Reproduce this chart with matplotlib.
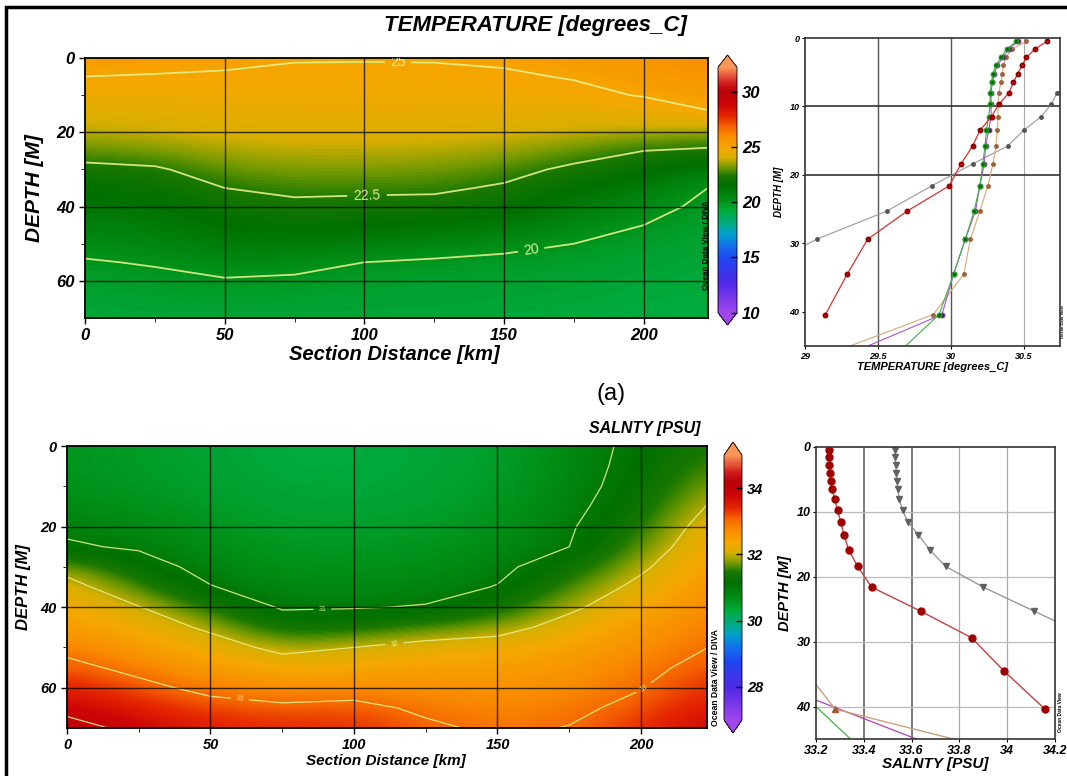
import numpy as np
import matplotlib
matplotlib.use('Agg')
import matplotlib.pyplot as plt
from matplotlib.colors import LinearSegmentedColormap
from matplotlib.patches import Rectangle

plt.rcParams['font.family'] = ['Liberation Sans', 'DejaVu Sans']

# section grid (distance along section, depth)
DIST_KM = [0, 25, 50, 75, 100, 125, 150, 175, 200, 225]
DEPTH_M = [0, 5, 10, 15, 20, 25, 30, 35, 40, 45, 50, 55, 60, 65, 70]

# temperature section, one list per distance column (values down the depth axis)
TEMP_COLS = [
    [25.3, 25.0, 24.6, 24.2, 23.7, 23.0, 22.2, 21.7, 21.3, 20.9, 20.4, 19.9, 19.6, 19.4, 19.2],
    [25.3, 24.95, 24.65, 24.3, 23.85, 23.2, 22.35, 21.8, 21.4, 21.0, 20.6, 20.1, 19.7, 19.5, 19.3],
    [25.2, 24.9, 24.7, 24.45, 24.1, 23.6, 23.05, 22.5, 22.0, 21.6, 21.1, 20.5, 19.9, 19.6, 19.4],
    [25.05, 24.85, 24.7, 24.5, 24.2, 23.75, 23.25, 22.75, 22.25, 21.75, 21.1, 20.4, 19.8, 19.5, 19.35],
    [25.04, 24.85, 24.7, 24.5, 24.2, 23.75, 23.25, 22.7, 22.2, 21.6, 20.9, 20.0, 19.6, 19.4, 19.3],
    [25.05, 24.85, 24.7, 24.5, 24.15, 23.7, 23.15, 22.7, 22.1, 21.4, 20.6, 19.85, 19.55, 19.4, 19.3],
    [25.12, 24.9, 24.7, 24.45, 24.05, 23.5, 22.9, 22.35, 21.85, 21.2, 20.35, 19.7, 19.5, 19.35, 19.25],
    [25.35, 25.05, 24.8, 24.4, 23.8, 23.05, 22.25, 21.6, 21.1, 20.5, 20.0, 19.6, 19.4, 19.3, 19.2],
    [25.65, 25.35, 25.05, 24.5, 23.6, 22.5, 21.8, 21.1, 20.5, 20.0, 19.6, 19.4, 19.3, 19.2, 19.1],
    [25.9, 25.65, 25.35, 24.95, 23.4, 22.3, 20.9, 19.9, 19.6, 19.45, 19.35, 19.3, 19.2, 19.15, 19.1],
]

# salinity section
SAL_COLS = [
    [30.6, 30.6, 30.65, 30.75, 30.92, 31.05, 31.8, 32.2, 32.35, 32.55, 32.85, 33.15, 33.5, 33.85, 34.2],
    [30.5, 30.5, 30.55, 30.65, 30.8, 30.95, 31.2, 31.6, 32.02, 32.3, 32.55, 32.85, 33.15, 33.5, 33.85],
    [30.4, 30.4, 30.45, 30.5, 30.6, 30.7, 30.85, 31.02, 31.45, 31.9, 32.25, 32.55, 32.85, 33.2, 33.5],
    [30.3, 30.3, 30.35, 30.4, 30.45, 30.55, 30.65, 30.8, 30.95, 31.3, 31.85, 32.3, 32.7, 33.1, 33.4],
    [30.3, 30.3, 30.33, 30.38, 30.45, 30.55, 30.65, 30.8, 30.97, 31.4, 32.0, 32.35, 32.75, 33.15, 33.4],
    [30.35, 30.35, 30.38, 30.42, 30.5, 30.58, 30.7, 30.83, 31.03, 31.6, 32.2, 32.5, 32.7, 32.9, 33.1],
    [30.45, 30.45, 30.5, 30.55, 30.65, 30.75, 30.88, 31.02, 31.3, 31.8, 32.25, 32.5, 32.65, 32.78, 32.9],
    [30.75, 30.78, 30.82, 30.88, 30.95, 31.0, 31.3, 31.6, 31.9, 32.2, 32.45, 32.6, 32.75, 32.88, 33.02],
    [31.15, 31.18, 31.22, 31.3, 31.45, 31.65, 31.9, 32.15, 32.35, 32.55, 32.7, 32.85, 32.98, 33.15, 33.35],
    [31.5, 31.65, 31.85, 32.08, 32.3, 32.45, 32.58, 32.7, 32.8, 32.9, 33.02, 33.2, 33.4, 33.6, 33.85],
]

TEMP_LEVELS = [20, 22.5, 25]
SAL_LEVELS = [31, 32, 33, 34]

# station profiles (depth levels shared by the stations)
LEVELS = [0.5, 1.6, 2.8, 4.0, 5.2, 6.5, 8.0, 9.7, 11.5, 13.5, 15.8, 18.4, 21.6, 25.3, 29.4, 34.5, 40.4]
DEEP = [47.0]

T_GREEN = [30.45, 30.385, 30.345, 30.31, 30.29, 30.28, 30.27, 30.27, 30.26, 30.245, 30.235, 30.22, 30.2, 30.16, 30.1, 30.02, 29.92, 29.59]
T_PURPLE = [30.46, 30.40, 30.36, 30.32, 30.30, 30.285, 30.277, 30.277, 30.277, 30.26, 30.24, 30.23, 30.2, 30.17, 30.1, 30.02, 29.94, 29.21]
T_TAN = [30.52, 30.42, 30.38, 30.36, 30.355, 30.345, 30.33, 30.325, 30.325, 30.32, 30.31, 30.29, 30.255, 30.2, 30.135, 30.09, 29.88, 29.06]
T_RED = [30.66, 30.58, 30.52, 30.49, 30.46, 30.43, 30.40, 30.33, 30.28, 30.20, 30.15, 30.07, 29.99, 29.70, 29.43, 29.29, 29.14]
T_GRAY_DEPTH = [6.5, 8.0, 9.7, 11.5, 13.5, 15.8, 18.4, 21.6, 25.3, 29.4, 34.5]
T_GRAY = [30.85, 30.73, 30.69, 30.62, 30.50, 30.39, 30.15, 29.87, 29.56, 29.08, 28.63]

S_RED = [33.254, 33.254, 33.255, 33.258, 33.262, 33.268, 33.278, 33.29, 33.303, 33.317, 33.336, 33.374, 33.433, 33.638, 33.851, 33.986, 34.158]
S_GRAY = [33.532, 33.532, 33.534, 33.536, 33.539, 33.542, 33.548, 33.562, 33.583, 33.628, 33.675, 33.742, 33.9, 34.113, 34.35]
S_TAN_DEPTH = [34.5, 40.4, 47.0]
S_TAN = [33.156, 33.28, 33.99]
S_PURPLE_DEPTH = [34.5, 47.0]
S_PURPLE = [32.885, 33.76]
S_GREEN_DEPTH = [34.5, 47.0]
S_GREEN = [33.041, 33.402]

# ODV-like palette
odv = LinearSegmentedColormap.from_list('odv', [
    (0.00, (160/255, 70/255, 235/255)),
    (0.12, (80/255, 40/255, 230/255)),
    (0.22, (30/255, 70/255, 240/255)),
    (0.27, (20/255, 110/255, 235/255)),
    (0.32, (0/255, 160/255, 205/255)),
    (0.36, (0/255, 170/255, 135/255)),
    (0.41, (0/255, 172/255, 62/255)),
    (0.45, (0/255, 148/255, 28/255)),
    (0.52, (0/255, 112/255, 0/255)),
    (0.56, (25/255, 120/255, 0/255)),
    (0.595, (120/255, 155/255, 0/255)),
    (0.63, (215/255, 175/255, 0/255)),
    (0.67, (245/255, 168/255, 0/255)),
    (0.72, (250/255, 140/255, 0/255)),
    (0.76, (245/255, 100/255, 0/255)),
    (0.80, (230/255, 40/255, 0/255)),
    (0.85, (205/255, 5/255, 5/255)),
    (0.90, (185/255, 0/255, 10/255)),
    (0.94, (210/255, 30/255, 30/255)),
    (1.00, (250/255, 150/255, 90/255)),
])

W, H = 1067, 776
fig = plt.figure(figsize=(W / 100, H / 100), dpi=100)


def box(x0, y0, x1, y1):
    # pixel box (top-left origin) -> figure fraction rect
    return [x0 / W, 1 - y1 / H, (x1 - x0) / W, (y1 - y0) / H]


def bi(texts):
    for t in texts:
        t.set_fontweight('bold')
        t.set_fontstyle('italic')


def section(ax, cax, cols, vmin, vmax, levels, cticks, label_pos, lab_size, lw, tsize):
    Z = np.array(cols).T
    dx = (DIST_KM[1] - DIST_KM[0]) / 2
    dz = (DEPTH_M[1] - DEPTH_M[0]) / 2
    im = ax.imshow(Z, cmap=odv, vmin=vmin, vmax=vmax, interpolation='bicubic', aspect='auto',
                   extent=[DIST_KM[0] - dx, DIST_KM[-1] + dx, DEPTH_M[-1] + dz, DEPTH_M[0] - dz])
    X, Y = np.meshgrid(DIST_KM, DEPTH_M)
    cs = ax.contour(X, Y, Z, levels=levels, colors='#e6f08a', linewidths=lw, alpha=0.9)
    ax.clabel(cs, fmt=lambda v: f'{v:g}', manual=label_pos, fontsize=lab_size,
              colors='#f4f6b0', inline=True, inline_spacing=4)
    ax.set_xlim(0, 223)
    ax.set_ylim(70, 0)
    ax.set_xticks([0, 50, 100, 150, 200])
    ax.set_yticks([0, 20, 40, 60])
    ax.set_xticks([25, 75, 125, 175], minor=True)
    ax.set_yticks([10, 30, 50], minor=True)
    for v in [50, 100, 150, 200]:
        ax.axvline(v, color='black', lw=1.0, alpha=0.75)
    for v in [20, 40, 60]:
        ax.axhline(v, color='black', lw=1.0, alpha=0.75)
    ax.tick_params(labelsize=tsize, length=4, width=1)
    ax.tick_params(which='minor', length=3)
    bi(ax.get_xticklabels() + ax.get_yticklabels())
    for s in ax.spines.values():
        s.set_linewidth(1.3)
    cb = fig.colorbar(im, cax=cax, extend='both', ticks=cticks)
    cb.outline.set_linewidth(0.6)
    cb.ax.tick_params(labelsize=tsize, length=4, direction='in', width=1)
    bi(cb.ax.get_yticklabels())
    return cb


def profile_axes(ax, xlim, xticks, xtlabels, tsize):
    ax.set_xlim(*xlim)
    ax.set_ylim(45, 0)
    ax.set_xticks(xticks)
    ax.set_xticklabels(xtlabels)
    ax.set_yticks([0, 10, 20, 30, 40])
    ax.tick_params(labelsize=tsize, length=2, width=0.8, pad=2)
    bi(ax.get_xticklabels() + ax.get_yticklabels())
    for s in ax.spines.values():
        s.set_linewidth(1.2)
        s.set_color('#333333')


# ---- (a) temperature section
ax1 = fig.add_axes(box(85, 58, 708, 318))
cax1 = fig.add_axes(box(718, 55, 737, 325))
section(ax1, cax1, TEMP_COLS, 10, 32.2, TEMP_LEVELS, [10, 15, 20, 25, 30],
        [(112, 1.5), (101, 38), (160, 53)], 10, 1.3, 12)
fig.text(394 / W, 1 - 355 / H, 'Section Distance [km]', ha='center', va='center',
         fontsize=14.5, fontweight='bold', fontstyle='italic')
fig.text(35 / W, 1 - 188 / H, 'DEPTH [M]', ha='center', va='center', rotation=90,
         fontsize=15, fontweight='bold', fontstyle='italic')
fig.text(535 / W, 1 - 26 / H, 'TEMPERATURE [degrees_C]', ha='center', va='center',
         fontsize=16, fontweight='bold', fontstyle='italic')
fig.text(706 / W, 1 - 245 / H, 'Ocean Data View / DIVA', ha='center', va='center',
         rotation=90, fontsize=5.8, fontweight='bold')

# ---- temperature profiles
ax2 = fig.add_axes(box(805, 38, 1060, 346))
profile_axes(ax2, (29, 30.75), [29, 29.5, 30, 30.5], ['29', '29.5', '30', '30.5'], 6.5)
for v in [29.5, 30]:
    ax2.axvline(v, color='#555555', lw=1.0)
ax2.axvline(30.5, color='#aaaaaa', lw=0.8)
for v in [10, 20]:
    ax2.axhline(v, color='#333333', lw=1.2)
ax2.plot(T_GRAY, T_GRAY_DEPTH, color='#9a9a9a', lw=0.8, marker='o', ms=2.5,
         mfc='#555555', mec='#555555')
ax2.plot(T_TAN, LEVELS + DEEP, color='#d8a878', lw=0.8, marker='o', ms=2.5,
         mfc='#a0603a', mec='#a0603a')
ax2.plot(T_PURPLE, LEVELS + DEEP, color='#b050d0', lw=0.8, marker='o', ms=3.2,
         mfc='#302040', mec='#8030a0')
ax2.plot(T_GREEN, LEVELS + DEEP, color='#40b040', lw=0.8, marker='o', ms=3.2,
         mfc='#106010', mec='#20a020')
ax2.plot(T_RED, LEVELS, color='#d83030', lw=0.9, marker='o', ms=3.2,
         mfc='#c00000', mec='#800000')
ax2.set_xlabel('TEMPERATURE [degrees_C]', fontsize=8, fontweight='bold', fontstyle='italic', labelpad=1)
ax2.set_ylabel('DEPTH [M]', fontsize=7, fontweight='bold', fontstyle='italic', labelpad=4)
fig.text(1063 / W, 1 - 322 / H, 'Ocean Data View', ha='center', va='center',
         rotation=90, fontsize=3, fontweight='bold')

fig.text(611 / W, 1 - 394 / H, '(a)', ha='center', va='center', fontsize=17)

# ---- salinity section
ax3 = fig.add_axes(box(67, 446, 707, 728))
cax3 = fig.add_axes(box(724, 442, 742, 733))
section(ax3, cax3, SAL_COLS, 27, 35, SAL_LEVELS, [28, 30, 32, 34],
        [(89, 41), (114, 48), (60, 64), (202, 61)], 5, 0.9, 10.5)
fig.text(386 / W, 1 - 761 / H, 'Section Distance [km]', ha='center', va='center',
         fontsize=11, fontweight='bold', fontstyle='italic')
fig.text(24 / W, 1 - 587 / H, 'DEPTH [M]', ha='center', va='center', rotation=90,
         fontsize=12, fontweight='bold', fontstyle='italic')
fig.text(645 / W, 1 - 428 / H, 'SALNTY [PSU]', ha='center', va='center',
         fontsize=11.5, fontweight='bold', fontstyle='italic')
fig.text(716 / W, 1 - 678 / H, 'Ocean Data View / DIVA', ha='center', va='center',
         rotation=90, fontsize=6.2, fontweight='bold')

# ---- salinity profiles
ax4 = fig.add_axes(box(816, 447, 1055, 739))
profile_axes(ax4, (33.2, 34.2), [33.2, 33.4, 33.6, 33.8, 34.0, 34.2],
             ['33.2', '33.4', '33.6', '33.8', '34', '34.2'], 9)
for v in [33.4, 33.6]:
    ax4.axvline(v, color='#555555', lw=1.1)
for v in [33.8, 34.0]:
    ax4.axvline(v, color='#aaaaaa', lw=0.9)
for v in [10, 20, 30, 40]:
    ax4.axhline(v, color='#bbbbbb', lw=0.9)
ax4.plot(S_GREEN, S_GREEN_DEPTH, color='#40b040', lw=0.9)
ax4.plot(S_PURPLE, S_PURPLE_DEPTH, color='#b040c0', lw=0.9)
ax4.plot(S_TAN, S_TAN_DEPTH, color='#c8a07a', lw=1.0, marker='^', ms=4,
         mfc='#a05a30', mec='#a05a30')
ax4.plot(S_GRAY, LEVELS[:len(S_GRAY)], color='#909090', lw=0.9, marker='v', ms=4.5,
         mfc='#606060', mec='#606060')
ax4.plot(S_RED, LEVELS, color='#c84040', lw=1.0, marker='o', ms=5,
         mfc='#a00000', mec='#a00000')
ax4.set_xlabel('SALNTY [PSU]', fontsize=11, fontweight='bold', fontstyle='italic', labelpad=0)
ax4.set_ylabel('DEPTH [M]', fontsize=10.5, fontweight='bold', fontstyle='italic', labelpad=3)
fig.text(1060 / W, 1 - 712 / H, 'Ocean Data View', ha='center', va='center',
         rotation=90, fontsize=3.5, fontweight='bold')

# outer frame
fig.add_artist(Rectangle((6 / W, -0.05), 1.2, 1 - 7 / H + 0.05, transform=fig.transFigure,
                         fill=False, lw=2.5, ec='black'))

fig.savefig('out.png', dpi=100)
